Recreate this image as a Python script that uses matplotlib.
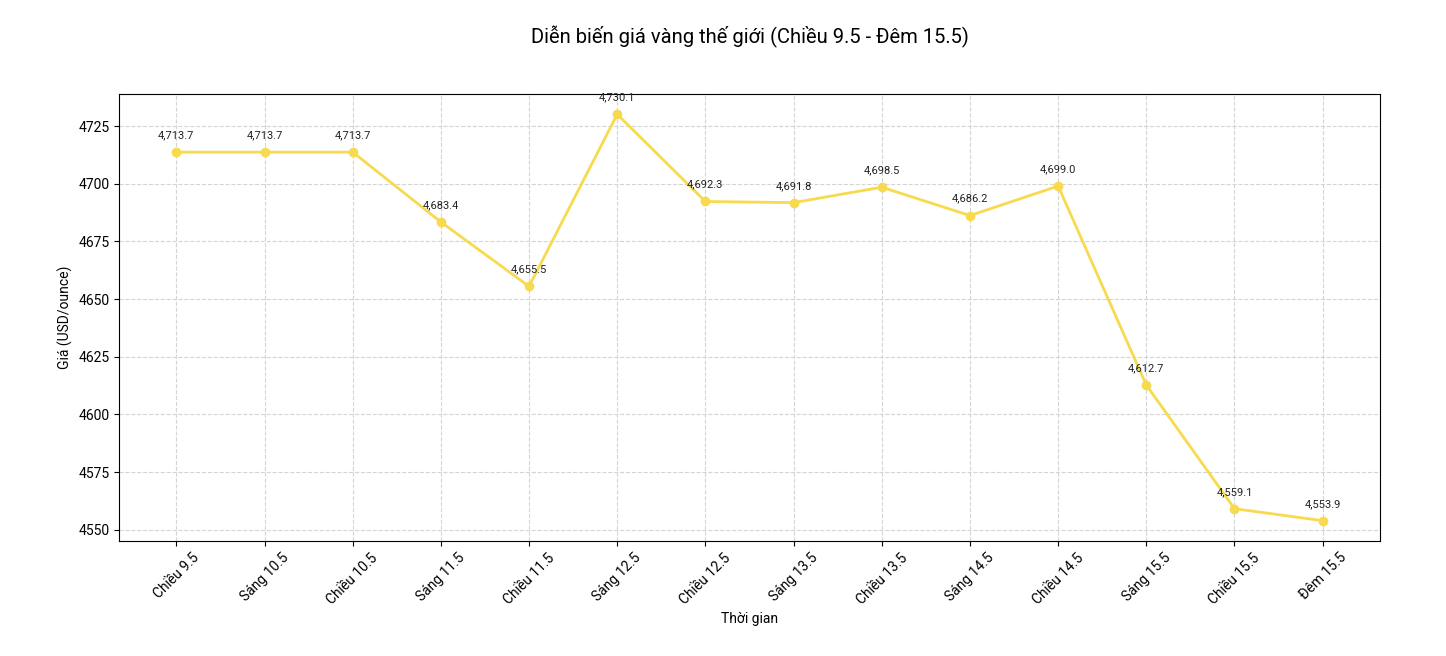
import matplotlib
matplotlib.use("Agg")
import matplotlib.pyplot as plt
import matplotlib.transforms as mtransforms

plt.rcParams['font.family'] = ['Roboto', 'DejaVu Sans']

labels = ["Chiều 9.5", "Sáng 10.5", "Chiều 10.5", "Sáng 11.5", "Chiều 11.5",
          "Sáng 12.5", "Chiều 12.5", "Sáng 13.5", "Chiều 13.5", "Sáng 14.5",
          "Chiều 14.5", "Sáng 15.5", "Chiều 15.5", "Đêm 15.5"]
prices = [4713.7, 4713.7, 4713.7, 4683.4, 4655.5, 4730.1, 4692.3,
          4691.8, 4698.5, 4686.2, 4699.0, 4612.7, 4559.1, 4553.9]

fig = plt.figure(figsize=(14.46, 6.56), dpi=100)
ax = fig.add_axes([119/1446, 1 - 541/656, (1380-119)/1446, (541-94)/656])

x = list(range(len(labels)))
ax.plot(x, prices, color='#F7DA4E', linewidth=2, marker='o', markersize=6)

for xi, p in zip(x, prices):
    ax.annotate(f"{p:,.1f}", (xi, p), textcoords='offset points', xytext=(0, 10),
                ha='center', fontsize=8, color='#222222')

ax.set_xticks(x)
ax.set_xticklabels(labels, rotation=45, fontsize=10)
ax.tick_params(axis='y', labelsize=10)
ax.grid(True, linestyle='--', color='#d4d4d4', linewidth=0.8)
ax.set_axisbelow(True)

ax.set_xlabel("Thời gian", fontsize=10)
ax.set_ylabel("Giá (USD/ounce)", fontsize=10)

trans = mtransforms.blended_transform_factory(ax.transAxes, fig.transFigure)
ax.text(0.5, 1 - 37/656, "Diễn biến giá vàng thế giới (Chiều 9.5 - Đêm 15.5)",
        transform=trans, ha='center', va='center', fontsize=14.5)

fig.savefig("out.png", dpi=100)
